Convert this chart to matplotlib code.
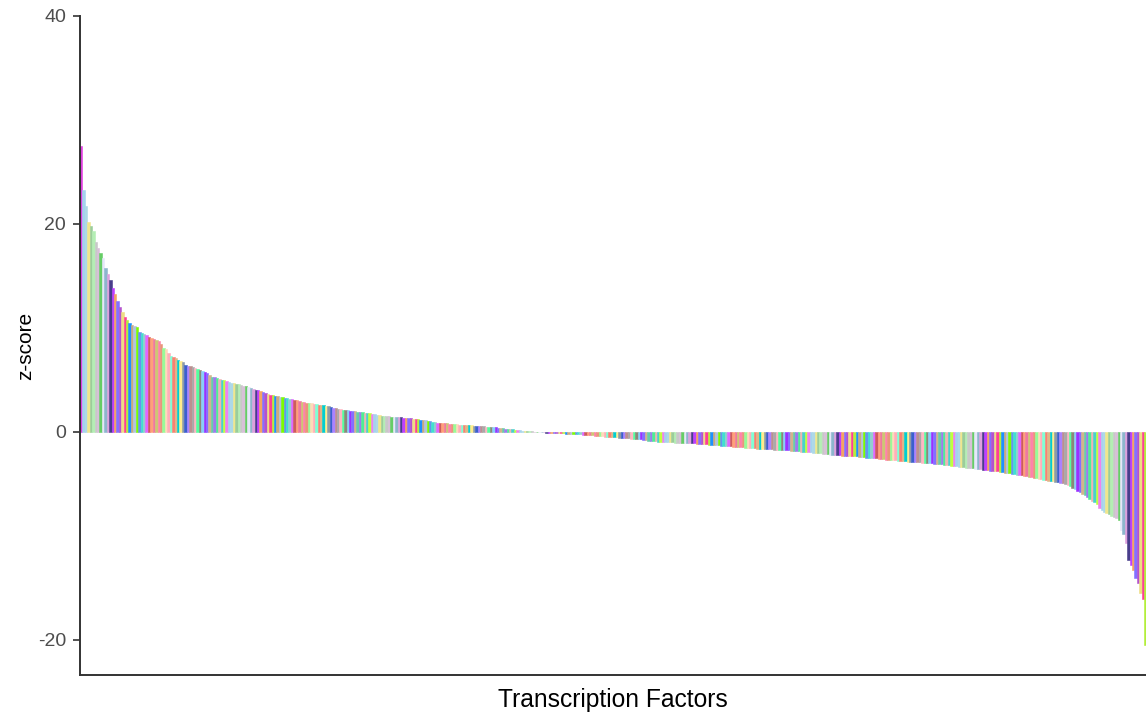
import matplotlib
matplotlib.use("Agg")
import matplotlib.pyplot as plt
import numpy as np

plt.rcParams["font.family"] = ["Liberation Sans", "DejaVu Sans"]

# z-scores of transcription factors, sorted from most enriched to most depleted
z_high = [27.5, 23.3, 21.7, 20.2, 19.8, 19.3, 18.3, 17.7, 17.2, 16.7, 15.8, 15.2,
          14.6, 13.8, 13.3, 12.6, 12.0, 11.5, 11.1, 10.8, 10.5, 10.3]
z_mid_pos = [10.15, 10.05, 9.6, 9.5, 9.45, 9.3, 9.15, 9.05, 8.9, 8.8, 8.7, 8.5,
             8.1, 7.95, 7.6, 7.35, 7.2, 7.1, 6.9, 6.8, 6.7, 6.45, 6.35, 6.3,
             6.25, 6.15, 6.05, 5.95, 5.85, 5.8, 5.7, 5.45, 5.3, 5.25, 5.15, 5.05,
             5.0, 4.95, 4.9, 4.8, 4.75, 4.7, 4.65, 4.6, 4.5, 4.45, 4.4, 4.35,
             4.2, 4.1, 4.05, 4.0, 3.9, 3.8, 3.75]
z_low_pos = [3.65, 3.6, 3.55, 3.5, 3.45, 3.4, 3.35, 3.3, 3.25, 3.2, 3.15, 3.1,
             3.05, 2.95, 2.9, 2.85, 2.8, 2.78, 2.75, 2.7, 2.65, 2.6, 2.58, 2.55,
             2.5, 2.45, 2.42, 2.35, 2.3, 2.25, 2.2, 2.15, 2.1, 2.08, 2.05, 2.0,
             1.97, 1.95, 1.92, 1.88, 1.85, 1.8, 1.78, 1.75, 1.68, 1.63, 1.6, 1.57,
             1.53, 1.5, 1.49, 1.48, 1.47, 1.46, 1.45, 1.42, 1.38, 1.35, 1.32, 1.3,
             1.28, 1.25, 1.2, 1.17, 1.15, 1.12, 1.06, 1.02, 0.98, 0.94, 0.91, 0.89,
             0.87, 0.85, 0.83, 0.81, 0.78, 0.75, 0.73, 0.71, 0.7, 0.68, 0.67, 0.66,
             0.64, 0.62, 0.6, 0.57, 0.55, 0.53, 0.51, 0.5, 0.48, 0.46, 0.43, 0.4,
             0.37, 0.35, 0.33, 0.3, 0.27, 0.24, 0.21, 0.19, 0.17, 0.14]
z_zero = [0.11, 0.09, 0.07, 0.05, 0.03, 0.01, -0.01, -0.03, -0.05]
z_low_neg = [-0.07, -0.08, -0.09, -0.1, -0.11, -0.12, -0.13, -0.14, -0.15, -0.16,
             -0.17, -0.18, -0.2, -0.22, -0.24, -0.26, -0.28, -0.3, -0.31, -0.33,
             -0.35, -0.37, -0.4, -0.42, -0.44, -0.46, -0.48, -0.5, -0.51, -0.53,
             -0.55, -0.56, -0.58, -0.6, -0.62, -0.64, -0.66, -0.68, -0.7, -0.72,
             -0.75, -0.8, -0.83, -0.86, -0.88, -0.9, -0.92, -0.94, -0.96, -0.98,
             -0.99, -1.0, -1.01, -1.02, -1.03, -1.04, -1.05, -1.06, -1.07, -1.08,
             -1.09, -1.1, -1.11, -1.13, -1.15, -1.17, -1.19, -1.21, -1.23, -1.25,
             -1.27, -1.29, -1.31, -1.33, -1.35, -1.37, -1.39, -1.41, -1.43, -1.45,
             -1.47, -1.49, -1.5, -1.52, -1.54, -1.56, -1.58, -1.6, -1.62, -1.64,
             -1.65, -1.66, -1.67, -1.68, -1.69, -1.7, -1.71, -1.72, -1.74, -1.76,
             -1.78, -1.8, -1.82, -1.85, -1.87, -1.89, -1.91, -1.93, -1.95, -1.97,
             -1.99, -2.01, -2.03, -2.06, -2.09, -2.12, -2.15, -2.18, -2.2, -2.22,
             -2.24, -2.26, -2.28, -2.29]
z_mid_neg = [-2.3, -2.31, -2.32, -2.33, -2.35, -2.37, -2.4, -2.43, -2.46, -2.48,
             -2.5, -2.52, -2.54, -2.56, -2.6, -2.63, -2.66, -2.68, -2.7, -2.72,
             -2.74, -2.76, -2.78, -2.8, -2.82, -2.84, -2.85, -2.87, -2.88, -2.9,
             -2.92, -2.94, -2.96, -2.98, -3.0, -3.02, -3.04, -3.06, -3.08, -3.12,
             -3.16, -3.2, -3.22, -3.25, -3.28, -3.3, -3.33, -3.36, -3.39, -3.42,
             -3.45, -3.48, -3.5, -3.53, -3.56, -3.6, -3.62, -3.65, -3.68, -3.72,
             -3.75, -3.78, -3.8, -3.83, -3.87, -3.9, -3.93, -3.96, -4.0, -4.05,
             -4.1, -4.13, -4.17, -4.2, -4.25, -4.3, -4.35, -4.4, -4.45, -4.5,
             -4.55, -4.6, -4.64, -4.68, -4.72, -4.76, -4.8, -4.85, -4.9, -4.95,
             -5.0, -5.1]
z_tail = [-5.2, -5.35, -5.5, -5.65, -5.8, -5.95, -6.1, -6.3, -6.45, -6.6, -6.75,
          -6.9, -7.3, -7.55, -7.7, -7.8, -7.9, -8.05, -8.2, -8.3, -8.45, -9.4,
          -9.8, -10.7, -12.3, -12.8, -13.3, -14.0, -14.5, -15.5, -16.1, -20.5]

zscores = z_high + z_mid_pos + z_low_pos + z_zero + z_low_neg + z_mid_neg + z_tail

y_ticks = [-20, 0, 20, 40]

# one fill colour per factor, mostly soft tones with a few strong ones
palette = ["#EE82EE", "#FFB6C1", "#98FB98", "#CDAA7D", "#66CD66", "#9F79EE",
           "#8B9BA8", "#FFA07A", "#B452CD", "#F0E68C", "#87CEFA", "#7FFFD4",
           "#6495ED", "#DDA0DD", "#48D1CC", "#BC8F8F", "#FF82AB", "#B3EE3A",
           "#C8C8C8", "#D2B48C", "#00CED1", "#E066FF", "#F4A460", "#A4D3EE",
           "#54FF9F", "#FFDAB9", "#B0C4DE", "#E6E6FA", "#4EEE94", "#3A5FCD",
           "#EE799F", "#EEDD82", "#9BCD9B", "#9B30FF", "#FA8072", "#40E0D0",
           "#483D8B", "#C0FF3E", "#A9A9A9", "#E9967A", "#1E90FF", "#D8BFD8",
           "#66CDAA", "#FFEC8B", "#CD5C5C", "#8470FF", "#ADD8E6", "#8B8878",
           "#FFAEB9", "#7CFC00", "#8DB6CD", "#EEB4B4", "#AB82FF", "#CDC673",
           "#FF3E96", "#B4EEB4", "#836FFF", "#DEB887", "#96CDCD", "#BF3EFF"]

n = len(zscores)
idx = np.arange(n)
colors = [palette[(i * 23) % len(palette)] for i in range(n)]
colors[0] = "#E040E0"

W, H = 1146, 713
fig = plt.figure(figsize=(W / 100, H / 100), dpi=100)
ax = fig.add_axes([80 / W, (H - 675) / H, 1 - 80 / W, (675 - 16) / H])

ax.bar(idx, zscores, width=1.0, color=colors, edgecolor=colors, linewidth=0.4)

ax.set_ylim(-23.37, 40)
ax.set_xlim(-0.5, n - 0.75)
ax.set_yticks(y_ticks)
ax.set_yticklabels([str(t) for t in y_ticks])
ax.set_xticks([])

for side in ("top", "right"):
    ax.spines[side].set_visible(False)
for side in ("left", "bottom"):
    ax.spines[side].set_color("#333333")
    ax.spines[side].set_linewidth(1.4)
    ax.spines[side].set_zorder(3)

ax.tick_params(axis="y", length=5, width=1.2, color="#333333",
               labelcolor="#4D4D4D", labelsize=14, pad=5)

ax.set_ylabel("z-score", fontsize=15, color="black", labelpad=2)
ax.set_xlabel("Transcription Factors", fontsize=17.7, color="black", labelpad=9)

fig.savefig("out.png", dpi=100)
